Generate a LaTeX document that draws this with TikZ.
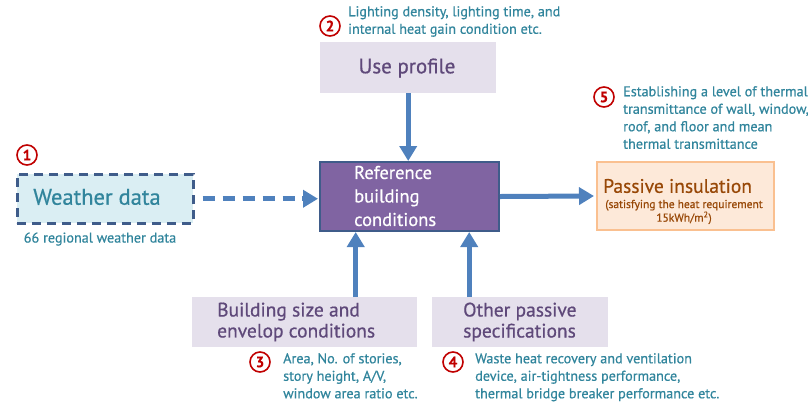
\documentclass[tikz,border=0pt]{standalone}
\usepackage{fontspec}
\setmainfont{PT Sans}[FakeBold=0.6]
\usetikzlibrary{arrows.meta}
\definecolor{tealtext}{HTML}{31859C}
\definecolor{purpletext}{HTML}{5F497A}
\definecolor{lavender}{HTML}{E5E0EC}
\definecolor{refpurple}{HTML}{8064A2}
\definecolor{refborder}{HTML}{3F5C8A}
\definecolor{arrowblue}{HTML}{4F81BD}
\definecolor{wfill}{HTML}{DAEEF3}
\definecolor{pfill}{HTML}{FDE9D9}
\definecolor{pborder}{HTML}{FAC090}
\definecolor{ptext}{HTML}{984807}
\definecolor{numred}{HTML}{C00000}
\begin{document}
\begin{tikzpicture}[x=1pt,y=-1pt,
  inbox/.style={fill=lavender, inner sep=0pt, anchor=north west},
  arr/.style={draw=arrowblue, line width=5pt, -{Triangle[width=17pt,length=15pt]}},
  dashline/.style={draw=arrowblue, line width=5pt, dash pattern=on 12pt off 8pt},
  note/.style={text=tealtext, font=\fontsize{14.2}{17.5}\selectfont, align=left, anchor=north west, inner sep=0pt},
  num/.style={circle, draw=numred, line width=1.6pt, text=numred, inner sep=0pt, minimum size=20pt, font=\fontsize{15}{15}\selectfont\bfseries},
  boxlabel/.style={text=purpletext, font=\fontsize{19.5}{21}\selectfont, align=left, inner sep=0pt}]
\useasboundingbox (0,0) rectangle (808,408);

% use profile
\node[inbox, minimum width=176pt, minimum height=51pt] (use) at (320,42) {};
\node[text=purpletext, font=\fontsize{21}{24}\selectfont, inner sep=0pt] (usetext) at (407,68) {Use profile};
\node[num] (n2) at (330,26) {2};
\node[note] (note2) at (348,6) {Lighting density, lighting time, and\\internal heat gain condition etc.};

% reference building conditions
\node[fill=refpurple, draw=refborder, line width=2pt, minimum width=179pt, minimum height=69pt, anchor=north west, inner sep=0pt] (ref) at (319,161) {};
\node[text=white, font=\fontsize{18.5}{23.5}\selectfont, align=left, anchor=west, inner sep=0pt] (reftext) at (354,196) {Reference\\building\\conditions};

% weather data
\node[fill=wfill, draw=refborder, line width=2.5pt, dash pattern=on 9pt off 6pt, minimum width=176pt, minimum height=49pt, anchor=north west, inner sep=0pt] (weather) at (16,173) {};
\node[text=tealtext, font=\fontsize{22.5}{26}\selectfont, inner sep=0pt] (wtext) at (97,197) {Weather data};
\node[num] (n1) at (27,155) {1};
\node[text=tealtext, font=\fontsize{14.2}{17}\selectfont, inner sep=0pt] (wnote) at (100,239) {66 regional weather data};

% passive insulation
\node[fill=pfill, draw=pborder, line width=2pt, minimum width=177pt, minimum height=68pt, anchor=north west, inner sep=0pt] (passive) at (596,161) {};
\node[text=ptext, font=\fontsize{19.5}{22}\selectfont, anchor=west, inner sep=0pt] (ptitle) at (603,186) {Passive insulation};
\node[text=ptext, font=\fontsize{11.5}{12.5}\selectfont, align=center, inner sep=0pt] (psub) at (684,212) {(satisfying the heat requirement\\15kWh/m\textsuperscript{2})};
\node[num] (n5) at (604,97) {5};
\node[note] (note5) at (623,86) {Establishing a level of thermal\\transmittance of wall, window,\\roof, and floor and mean\\thermal transmittance};

% building size
\node[inbox, minimum width=225pt, minimum height=50pt] (bsize) at (192,297) {};
\node[boxlabel, anchor=west] (btext) at (217,322) {Building size and\\envelop conditions};
\node[num] (n3) at (260,362) {3};
\node[note] (note3) at (283,353) {Area, No. of stories,\\story height, A/V,\\window area ratio etc.};

% other passive specifications
\node[inbox, minimum width=176pt, minimum height=50pt] (other) at (432,297) {};
\node[boxlabel, anchor=west] (otext) at (463,322) {Other passive\\specifications};
\node[num] (n4) at (453,362) {4};
\node[note] (note4) at (475,353) {Waste heat recovery and ventilation\\device, air-tightness performance,\\thermal bridge breaker performance etc.};

% connectors
\draw[arr] (use.south) -- (use.south |- ref.north);
\draw[arr] ([xshift=51pt]bsize.north) -- ([xshift=51pt]bsize.north |- ref.south);
\draw[arr] ([xshift=-51pt]other.north) -- ([xshift=-51pt]other.north |- ref.south);
\draw[arr] (ref.east) -- ([xshift=-2pt]passive.west);
\draw[dashline, shorten <=8pt, shorten >=17pt] (weather.east) -- (weather.east -| ref.west);
\draw[arr] ([xshift=-17pt]weather.east -| ref.west) -- ([xshift=-1pt]weather.east -| ref.west);
\end{tikzpicture}
\end{document}
